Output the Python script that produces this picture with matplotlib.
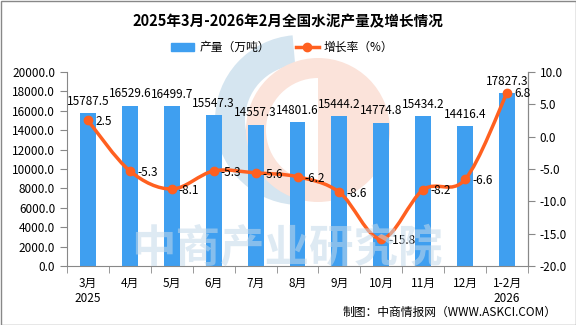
import numpy as np
import matplotlib
matplotlib.use("Agg")
from matplotlib import pyplot as plt
from matplotlib.path import Path
from matplotlib.patches import PathPatch, Wedge, Patch
from matplotlib.lines import Line2D

plt.rcParams['font.family'] = ['Noto Sans CJK SC', 'DejaVu Sans']

months = ['3月\n2025', '4月', '5月', '6月', '7月', '8月', '9月', '10月', '11月', '12月', '1-2月\n2026']
output = [15787.5, 16529.6, 16499.7, 15547.3, 14557.3, 14801.6, 15444.2, 14774.8, 15434.2, 14416.4, 17827.3]
growth = [2.5, -5.3, -8.1, -5.3, -5.6, -6.2, -8.6, -15.8, -8.2, -6.6, 6.8]

bar_c = '#3f9ff0'
line_c = '#ff6020'

fig = plt.figure(figsize=(5.76, 3.25), dpi=100)

# watermark layer in pixel coords
bg = fig.add_axes([0, 0, 1, 1], zorder=0)
bg.set_xlim(0, 576)
bg.set_ylim(0, 325)
bg.axis('off')
bg.add_patch(Wedge((300, 205), 85, 95, 265, width=30, color='#d5e5f0', lw=0))
bg.add_patch(Wedge((318, 195), 72, -90, 90, color='#fbe3da', lw=0))
bg.add_patch(Wedge((318, 195), 72, 90, 270, width=20, color='#fbe3da', lw=0))
bg.add_patch(plt.Rectangle((0.5, 0.5), 575, 324, fill=False, ec='#888888', lw=1))

ax = fig.add_axes([0.1163, 0.1815, 0.8004, 0.597], zorder=1)
ax.patch.set_alpha(0)
x = np.arange(len(months))
ax.bar(x, output, width=0.38, color=bar_c, zorder=2)
ax.set_xlim(-0.5, len(months) - 0.5)
ax.set_ylim(0, 20000)
ax.set_yticks(np.arange(0, 20001, 2000))
ax.set_yticklabels([f'{v:.1f}' for v in np.arange(0, 20001, 2000)], fontsize=8.5)
ax.set_xticks(x)
ax.set_xticklabels(months, fontsize=8.5, linespacing=1.2)
ax.tick_params(axis='x', length=0, pad=8)
ax.set_xticks(np.arange(-0.5, len(months)), minor=True)
ax.tick_params(axis='x', which='minor', length=5, color='#888888', direction='out')
ax.tick_params(axis='y', length=5, color='#888888', direction='out')
ax.spines['top'].set_visible(False)
for s in ['left', 'right', 'bottom']:
    ax.spines[s].set_color('#888888')
for xi, v in zip(x, output):
    ax.text(xi, v + 550, f'{v:.1f}', ha='center', va='bottom', fontsize=8.5, zorder=6)

ax2 = ax.twinx()
ax2.set_ylim(-20, 10)
ax2.set_yticks(np.arange(-20, 11, 5))
ax2.set_yticklabels([f'{v:.1f}' for v in np.arange(-20, 11, 5)], fontsize=8.5)
ax2.tick_params(axis='y', length=5, color='#888888', direction='out')
ax2.spines['top'].set_visible(False)
ax2.spines['right'].set_color('#888888')
ax2.spines['left'].set_visible(False)
ax2.spines['bottom'].set_visible(False)

# smooth line as Catmull-Rom Bezier path through the data points
pts = np.column_stack([x, growth]).astype(float)
verts = [tuple(pts[0])]
codes = [Path.MOVETO]
for i in range(len(pts) - 1):
    p0 = pts[i - 1] if i > 0 else pts[i]
    p1 = pts[i]
    p2 = pts[i + 1]
    p3 = pts[i + 2] if i + 2 < len(pts) else pts[i + 1]
    c1 = p1 + (p2 - p0) / 6
    c2 = p2 - (p3 - p1) / 6
    verts += [tuple(c1), tuple(c2), tuple(p2)]
    codes += [Path.CURVE4] * 3
ax2.add_patch(PathPatch(Path(verts, codes), fill=False, ec=line_c, lw=2.5, zorder=3))
ax2.plot(x, growth, 'o', color=line_c, ms=6, zorder=4)
for xi, g in zip(x, growth):
    ax2.text(xi + 0.17, g - 0.2, f'{g:.1f}', ha='left', va='center', fontsize=8.5, zorder=6)

# watermark text over the plot
fig.text(0.498, 0.235, '中商产业研究院', fontsize=32, color='#c4d9ea', alpha=0.55,
         ha='center', va='center', fontweight='bold', zorder=5)

fig.text(0.5, 0.935, '2025年3月-2026年2月全国水泥产量及增长情况', ha='center', va='center',
         fontsize=10.5, fontweight='bold')
handles = [Patch(color=bar_c), Line2D([], [], color=line_c, lw=2.5, marker='o', ms=6)]
fig.legend(handles, ['产量（万吨）', '增长率（%）'], loc='center', bbox_to_anchor=(0.49, 0.853),
           ncol=2, frameon=False, fontsize=8.5, handlelength=2.0, handletextpad=0.4,
           columnspacing=2.2)
fig.text(0.967, 0.038, '制图：中商情报网（WWW.ASKCI.COM）', ha='right', va='center', fontsize=8.5)

fig.savefig('out.png', dpi=100)
